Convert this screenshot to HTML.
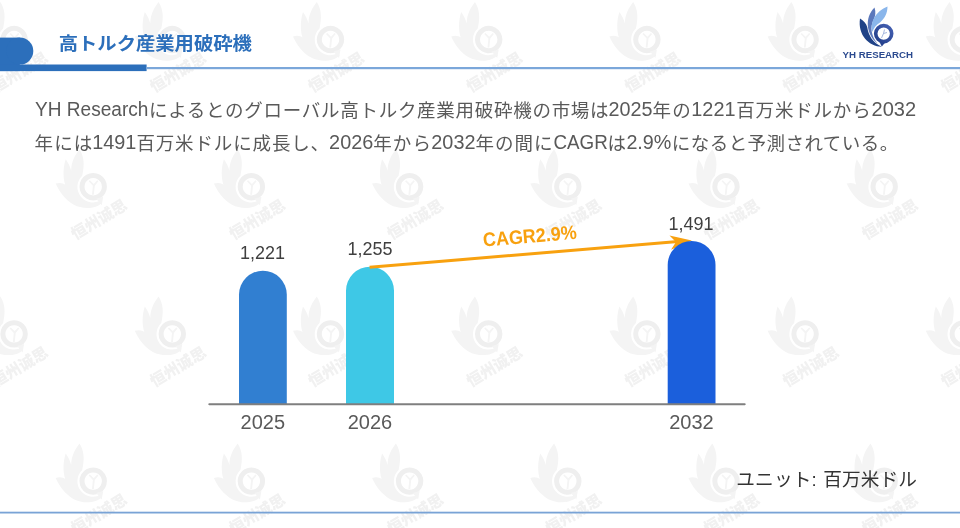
<!DOCTYPE html>
<html lang="ja">
<head>
<meta charset="utf-8">
<title>高トルク産業用破砕機</title>
<style>
html,body{margin:0;padding:0;background:#fff;}
body{width:960px;height:528px;overflow:hidden;position:relative;font-family:"Liberation Sans","Noto Sans CJK JP",sans-serif;}
svg{position:absolute;left:0;top:0;display:block;}
text{font-family:"Liberation Sans","Noto Sans CJK JP",sans-serif;}
.wm text{font-family:"Liberation Sans","Noto Sans CJK SC",sans-serif;}
</style>
</head>
<body>
<svg width="960" height="528" viewBox="0 0 960 528">
<defs>
  <linearGradient id="rg" x1="0" y1="1" x2="1" y2="0"><stop offset="0" stop-color="#223f8a"/><stop offset="1" stop-color="#4560b2"/></linearGradient>
  <filter id="soft" x="0" y="0" width="100%" height="100%" filterUnits="userSpaceOnUse"><feGaussianBlur stdDeviation="0.6"/></filter>
  <g id="wm" class="wm" fill="#f4f4f4">
    <path d="M-13.75,-37.5 C-9,-30 -8.5,-22 -11,-11 A15.5,15.5 0 0 0 8,13.3 L9,16 C3,22 -10,23 -19.4,18.1 C-28,13 -34,5 -37.5,-3.1 C-33,-4.5 -30,-3.5 -28,-2 C-30.5,-10 -30,-20 -27.5,-27.5 C-25,-24 -23,-20 -22,-16 C-22,-25 -18,-32 -13.75,-37.5Z"/>
    <path fill="#efefef" fill-rule="evenodd" d="M0,-13.7 A13.7,13.7 0 1 1 -0.01,-13.7Z M0,-8.7 A8.7,8.7 0 1 0 0.01,-8.7Z"/>
    <path d="M3,12 L8.5,18.5 L10,10Z"/>
    <path d="M-1.2,8 L-0.3,-1 L-4.5,-5.5 L-3.3,-6.5 L0.5,-2.8 L4,-6.5 L5.2,-5.5 L1.6,-1 L0.6,8Z"/>
    <text transform="translate(-18,53.5) rotate(-31)" font-size="15.5" font-weight="900" textLength="62" fill="#f1f1f1">恒州诚思</text>
  </g>
</defs>
<rect width="960" height="528" fill="#fff"/>
<g id="watermarks" filter="url(#soft)">
<use href="#wm" x="14.1" y="39.5"/>
<use href="#wm" x="172.3" y="39.5"/>
<use href="#wm" x="330.5" y="39.5"/>
<use href="#wm" x="488.7" y="39.5"/>
<use href="#wm" x="646.9" y="39.5"/>
<use href="#wm" x="805.1" y="39.5"/>
<use href="#wm" x="963.3" y="39.5"/>
<use href="#wm" x="93.2" y="186.7"/>
<use href="#wm" x="251.4" y="186.7"/>
<use href="#wm" x="409.6" y="186.7"/>
<use href="#wm" x="567.8" y="186.7"/>
<use href="#wm" x="726.0" y="186.7"/>
<use href="#wm" x="884.2" y="186.7"/>
<use href="#wm" x="14.1" y="333.9"/>
<use href="#wm" x="172.3" y="333.9"/>
<use href="#wm" x="330.5" y="333.9"/>
<use href="#wm" x="488.7" y="333.9"/>
<use href="#wm" x="646.9" y="333.9"/>
<use href="#wm" x="805.1" y="333.9"/>
<use href="#wm" x="963.3" y="333.9"/>
<use href="#wm" x="93.2" y="481.1"/>
<use href="#wm" x="251.4" y="481.1"/>
<use href="#wm" x="409.6" y="481.1"/>
<use href="#wm" x="567.8" y="481.1"/>
<use href="#wm" x="726.0" y="481.1"/>
<use href="#wm" x="884.2" y="481.1"/>
</g>

<!-- header -->
<g id="header">
  <g fill="#2c6fbb"><rect x="0" y="37.6" width="19.8" height="33.5"/><circle cx="19.8" cy="51.1" r="13.5"/><rect x="0" y="64.5" width="146.6" height="6.6"/></g>
  <rect x="146" y="67.0" width="814" height="2.2" fill="#7ba7da"/>
  <text x="58.7" y="49.6" font-size="17.8" font-weight="700" fill="#2c6fbb" textLength="193.2" lengthAdjust="spacingAndGlyphs">高トルク産業用破砕機</text>
</g>

<!-- logo -->
<g id="logo">
  <path d="M860,18.5 C863.5,20.5 866.3,23.5 867.2,27 C868.5,36 873,42.5 881.8,46.8 C869,46.5 857.5,35 860,18.5Z" fill="#1f4287"/>
  <path d="M874.5,7.5 C876,12 875.5,16 873.5,20 C870,27 871,36 877.5,43.5 C866.5,35 864,18 874.5,7.5Z" fill="#5b78bb"/>
  <path d="M887.5,6.5 C887.5,13 885,18 880,22.5 C876,25 873.5,28 872.5,32 C869.5,22 876,11 887.5,6.5Z" fill="#8ab6eb"/>
  <circle cx="883.7" cy="33.6" r="8" fill="none" stroke="url(#rg)" stroke-width="3.6"/>
  <path d="M879.5,42 L881.8,46.6 L885,42.8Z" fill="#27438f"/>
  <path d="M881.5,38 L883.5,33.5 L884.5,29.5 M883.5,33.5 L887,32.5" stroke="#8fa6d6" stroke-width="0.8" fill="none"/>
  <text x="842.6" y="58.2" font-size="9.6" font-weight="700" fill="#2b4a8f" textLength="70.5" lengthAdjust="spacingAndGlyphs">YH RESEARCH</text>
</g>

<!-- paragraph -->
<g id="para" fill="#595959" font-size="18.5">
  <text x="35" y="115.6" font-size="19.6" textLength="113.4" lengthAdjust="spacingAndGlyphs">YH Research</text>
  <text dy="1" x="149" y="115.6" textLength="459.6" lengthAdjust="spacing">によるとのグローバル高トルク産業用破砕機の市場は</text>
  <text x="608.6" y="115.6" font-size="19.6" textLength="44" lengthAdjust="spacingAndGlyphs">2025</text>
  <text dy="1" x="652.4" y="115.6" textLength="38.4" lengthAdjust="spacing">年の</text>
  <text x="691.3" y="115.6" font-size="19.6" textLength="44.2" lengthAdjust="spacingAndGlyphs">1221</text>
  <text dy="1" x="736.3" y="115.6" textLength="134.4" lengthAdjust="spacing">百万米ドルから</text>
  <text x="871.5" y="115.6" font-size="19.6" textLength="44.6" lengthAdjust="spacingAndGlyphs">2032</text>
  <text dy="1" x="34.6" y="149.0" textLength="57.6" lengthAdjust="spacing">年には</text>
  <text x="92.2" y="149.0" font-size="19.6" textLength="44.2" lengthAdjust="spacingAndGlyphs">1491</text>
  <text dy="1" x="136.4" y="149.0" textLength="192.7" lengthAdjust="spacing">百万米ドルに成長し、</text>
  <text x="329.1" y="149.0" font-size="19.6" textLength="44.2" lengthAdjust="spacingAndGlyphs">2026</text>
  <text dy="1" x="373.2" y="149.0" textLength="57.8" lengthAdjust="spacing">年から</text>
  <text x="431.3" y="149.0" font-size="19.6" textLength="44.2" lengthAdjust="spacingAndGlyphs">2032</text>
  <text dy="1" x="475.5" y="149.0" textLength="77.1" lengthAdjust="spacing">年の間に</text>
  <text x="553.5" y="149.0" font-size="19.6" textLength="54.3" lengthAdjust="spacingAndGlyphs">CAGR</text>
  <text dy="1" x="607.6" y="149.0">は</text>
  <text x="626.4" y="149.0" font-size="19.6" textLength="45" lengthAdjust="spacingAndGlyphs">2.9%</text>
  <text dy="1" x="671.8" y="149.0" textLength="226.4" lengthAdjust="spacing">になると予測されている。</text>
</g>

<!-- chart -->
<g id="chart">
  <path d="M239,404 V294.6 A23.9,23.9 0 0 1 286.8,294.6 V404Z" fill="#317fd1"/>
  <path d="M346,404 V290.7 A24,24 0 0 1 394,290.7 V404Z" fill="#3ec8e6"/>
  <path d="M691.8,240.4 L669.5,235.5 L676,242 L671,249.8Z" fill="#f8a10f"/>
  <path d="M667.7,404 V264.8 A23.9,23.9 0 0 1 715.5,264.8 V404Z" fill="#1b5fdc"/>
  <line x1="369.6" y1="267.3" x2="678" y2="241.6" stroke="#f8a10f" stroke-width="3"/>
  <rect x="208.3" y="403.2" width="537.4" height="2" rx="1" fill="#7f7f7f"/>
  <g fill="#404040" font-size="18.8">
    <text x="240" y="259.1" textLength="45" lengthAdjust="spacingAndGlyphs">1,221</text>
    <text x="347.6" y="254.7" textLength="45" lengthAdjust="spacingAndGlyphs">1,255</text>
    <text x="668.6" y="230.4" textLength="45" lengthAdjust="spacingAndGlyphs">1,491</text>
  </g>
  <g fill="#595959" font-size="20" text-anchor="middle">
    <text x="262.8" y="429">2025</text>
    <text x="370" y="429">2026</text>
    <text x="691.5" y="429">2032</text>
  </g>
  <text transform="translate(483.5,246.6) rotate(-4.8)" font-size="19.5" font-weight="700" fill="#f8a10f" textLength="94" lengthAdjust="spacingAndGlyphs">CAGR2.9%</text>
</g>

<!-- footer -->
<text y="485.5" font-size="18.67" fill="#333"><tspan x="736.3" textLength="80.4" lengthAdjust="spacing">ユニット:</tspan> <tspan x="823.3" textLength="93.6" lengthAdjust="spacing">百万米ドル</tspan></text>
<rect x="0" y="511.7" width="960" height="1.8" fill="#79a3d6"/>
</svg>
</body>
</html>
